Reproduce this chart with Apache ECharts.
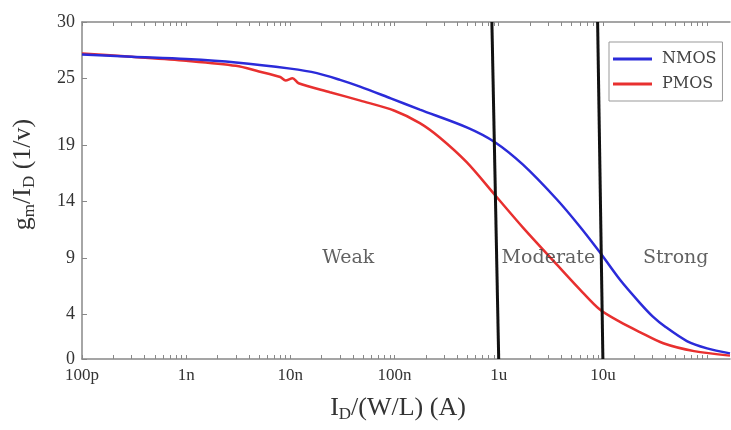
<!DOCTYPE html>
<html>
<head>
<meta charset="utf-8">
<script src="https://cdn.jsdelivr.net/npm/echarts@6/dist/echarts.min.js"></script>
<style>
  html,body{margin:0;padding:0;background:#fff;}
  #chart{width:731px;height:430px;}
</style>
</head>
<body>
<div id="chart"></div>
<script>
// gm/Id vs Id/(W/L)
var nmosX = [1e-10, 3e-10, 1e-9, 3e-9, 1e-8, 1.8e-8, 3e-8, 4.66e-8, 9.2e-8, 1.75e-7, 5e-7, 9.2e-7, 1.71e-6, 3.62e-6, 6e-6, 9.35e-6, 1.46e-5, 2.26e-5, 3e-5, 4e-5, 6.4e-5, 1e-4, 1.66e-4];
var nmosY = [27.1, 26.9, 26.7, 26.4, 25.85, 25.45, 24.85, 24.25, 23.2, 22.2, 20.6, 19.3, 17.3, 14.2, 11.8, 9.5, 7.05, 5.0, 3.8, 2.85, 1.6, 0.95, 0.5];
var pmosX = [1e-10, 3e-10, 1e-9, 3e-9, 5e-9, 8e-9, 9e-9, 1.05e-8, 1.2e-8, 2.4e-8, 4.7e-8, 1e-7, 1.75e-7, 2.73e-7, 4.95e-7, 9.2e-7, 1.71e-6, 3.62e-6, 6e-6, 9.35e-6, 1.46e-5, 2.26e-5, 3.8e-5, 7.5e-5, 1.66e-4];
var pmosY = [27.2, 26.9, 26.55, 26.1, 25.6, 25.1, 24.8, 25.0, 24.55, 23.75, 23.0, 22.1, 21.0, 19.7, 17.5, 14.6, 11.7, 8.4, 6.2, 4.4, 3.3, 2.4, 1.4, 0.7, 0.3];

var xTickLabels = ['100p', '1n', '10n', '100n', '1u', '10u'];
var yTickValues = [0, 4, 9, 14, 19, 25, 30];

// region boundary lines (top x, bottom x)
var boundTopX = [8.6e-7, 8.9e-6];
var boundBottomX = [1e-6, 1e-5];

var regionNames = ['Weak', 'Moderate', 'Strong'];
var regionX = [3.6e-8, 3.0e-6, 5.0e-5];
var regionY = [9, 9, 9];

function pairs(xs, ys){
    var out = [];
    for (var i = 0; i < xs.length; i++) out.push([xs[i], ys[i]]);
    return out;
}

// minor ticks 1..9 per decade
var xTickValues = [];
for (var e = -10; e <= -4; e++) {
    for (var k = 1; k <= 9; k++) {
        var v = k * Math.pow(10, e);
        if (v <= 1.66e-4) xTickValues.push(v);
    }
}

var serif = 'Liberation Serif';
var chart = echarts.init(document.getElementById('chart'));

var series = [{
    name: 'NMOS',
    type: 'line',
    data: pairs(nmosX, nmosY),
    showSymbol: false,
    smooth: 0.3,
    lineStyle: {color: '#2b2bd9', width: 2.5},
    itemStyle: {color: '#2b2bd9'},
    z: 3
}, {
    name: 'PMOS',
    type: 'line',
    data: pairs(pmosX, pmosY),
    showSymbol: false,
    smooth: 0.3,
    lineStyle: {color: '#e8302f', width: 2.5},
    itemStyle: {color: '#e8302f'},
    z: 2
}];

for (var b = 0; b < boundTopX.length; b++) {
    series.push({
        type: 'line',
        data: [[boundTopX[b], 30], [boundBottomX[b], 0]],
        showSymbol: false,
        lineStyle: {color: '#111', width: 3},
        silent: true,
        z: 4
    });
}

var textData = [];
for (var r = 0; r < regionNames.length; r++) {
    textData.push({name: regionNames[r], value: [regionX[r], regionY[r]]});
}
series.push({
    type: 'scatter',
    data: textData,
    symbolSize: 0,
    silent: true,
    z: 5,
    label: {
        show: true,
        position: 'inside',
        formatter: '{b}',
        fontFamily: 'DejaVu Serif',
        fontSize: 19,
        color: '#3a3a3a'
    }
});

option = {
    animation: false,
    backgroundColor: '#fff',
    grid: {left: 82, right: 1, top: 22, bottom: 71},
    legend: {
        data: ['NMOS', 'PMOS'],
        orient: 'vertical',
        left: 609,
        top: 42,
        padding: [9, 6, 9, 4],
        itemGap: 9,
        itemWidth: 39,
        itemHeight: 3,
        icon: 'rect',
        backgroundColor: '#fff',
        borderColor: '#999',
        borderWidth: 1,
        textStyle: {fontFamily: 'DejaVu Serif', fontSize: 16, color: '#444', padding: [0, 0, 0, 5]}
    },
    xAxis: [{
        type: 'log',
        logBase: 10,
        min: 1e-10,
        max: 1.66e-4,
        name: '{a|I}{s|D}{e|/(W/L) (A)}',
        nameLocation: 'middle',
        nameGap: 35,
        nameTextStyle: {
            rich: {
                a: {fontFamily: serif, fontSize: 26, color: '#333'},
                e: {fontFamily: serif, fontSize: 26, color: '#333', padding: [0, 16, 0, 0]},
                s: {fontFamily: serif, fontSize: 17, color: '#333', padding: [12, 0, 0, 0]}
            }
        },
        axisLine: {lineStyle: {color: '#888', width: 1.5}},
        axisTick: {inside: true, length: 4, customValues: xTickValues, lineStyle: {color: '#888'}},
        splitLine: {show: false},
        axisLabel: {
            fontFamily: serif,
            fontSize: 17,
            color: '#333',
            margin: 8,
            showMaxLabel: false,
            formatter: function (v) {
                var i = Math.round(Math.log10(v) + 10);
                return xTickLabels[i] || '';
            }
        }
    }, {
        type: 'log',
        logBase: 10,
        min: 1e-10,
        max: 1.66e-4,
        position: 'top',
        axisLine: {lineStyle: {color: '#888', width: 1.5}},
        axisTick: {inside: true, length: 4, customValues: xTickValues, lineStyle: {color: '#888'}},
        axisLabel: {show: false},
        splitLine: {show: false}
    }],
    yAxis: [{
        type: 'value',
        min: 0,
        max: 30,
        name: '{p|g}{s|m}{a|/I}{s|D}{a| (1/v)}',
        nameLocation: 'middle',
        nameRotate: 90,
        nameGap: 44,
        nameTextStyle: {
            rich: {
                p: {fontFamily: serif, fontSize: 26, color: '#333', padding: [0, 0, 0, 32]},
                a: {fontFamily: serif, fontSize: 26, color: '#333'},
                s: {fontFamily: serif, fontSize: 17, color: '#333', padding: [12, 0, 0, 0]}
            }
        },
        axisLine: {show: true, lineStyle: {color: '#888', width: 1.5}},
        axisTick: {show: true, inside: true, length: 5, customValues: yTickValues, lineStyle: {color: '#888'}},
        splitLine: {show: false},
        axisLabel: {
            customValues: yTickValues,
            fontFamily: serif,
            fontSize: 18,
            color: '#333',
            margin: 7
        }
    }],
    series: series
};

chart.setOption(option);
</script>
</body>
</html>
